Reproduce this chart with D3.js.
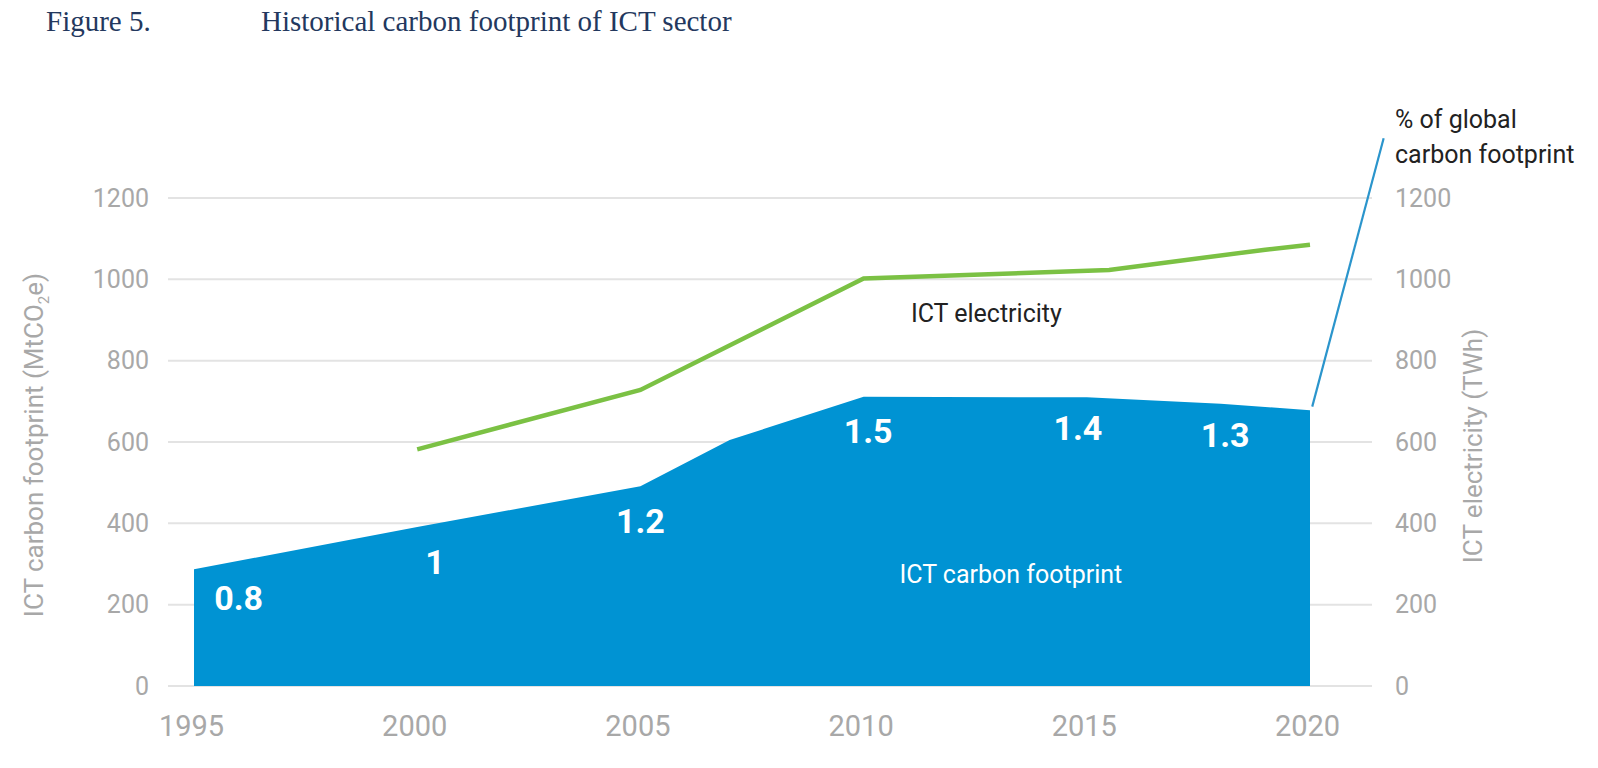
<!DOCTYPE html>
<html lang="en">
    <head>
        <meta charset="utf-8">
        <title>Historical carbon footprint of ICT sector</title>
        <script src="https://d3js.org/d3.v7.min.js"></script>
        <style type="text/css">
            body {
                margin: 0;
                background: white;
            }
            .title {
                font-family: "Liberation Serif", serif;
                font-size: 29px;
                fill: #23385e;
            }
            .axis text {
                font-family: Roboto, sans-serif;
                font-size: 25px;
                fill: #a8a8a8;
            }
            .axis path {
                display: none;
            }
            .years text {
                font-size: 29px;
            }
            .grid line {
                stroke: #e3e3e3;
                stroke-width: 2px;
            }
            .axisTitle {
                font-family: Roboto, sans-serif;
                font-size: 26px;
                fill: #a8a8a8;
            }
            .pct {
                font-family: Roboto, sans-serif;
                font-size: 34px;
                font-weight: bold;
                fill: white;
            }
            .note {
                font-family: Roboto, sans-serif;
                font-size: 25px;
            }
        </style>
    </head>
    <body>
        <script type="text/javascript">

            const w = 1598;
            const h = 768;

            // carbon footprint (MtCO2e)
            const footprintYears = [1995, 2000, 2005, 2007, 2010, 2015, 2018, 2020];
            const footprintValues = [287, 391, 491, 605, 711, 710, 694, 678];

            // ICT electricity (TWh)
            const electricityYears = [2000, 2005, 2010, 2015.5, 2019, 2020];
            const electricityValues = [582, 728, 1002, 1023, 1073, 1085];

            // % of global carbon footprint labels
            const pctLabels = ["0.8", "1", "1.2", "1.5", "1.4", "1.3"];
            const pctYears = [1996, 2000.4, 2005, 2010.1, 2014.8, 2018.1];
            const pctValues = [187, 275, 376, 597, 605, 588];

            const yearTicks = [1995, 2000, 2005, 2010, 2015, 2020];
            const valueTicks = [0, 200, 400, 600, 800, 1000, 1200];

            const footprint = footprintYears.map((y, i) => ({year: y, value: footprintValues[i]}));
            const electricity = electricityYears.map((y, i) => ({year: y, value: electricityValues[i]}));

            const xScale = d3.scaleLinear()
                             .domain([1995, 2020])
                             .range([194, 1310]);

            const yScale = d3.scaleLinear()
                             .domain([0, 1200])
                             .range([686, 198]);

            const svg = d3.select("body")
                    .append("svg")
                    .attr("width", w)
                    .attr("height", h);

            // title
            svg.append("text").attr("class", "title")
               .attr("x", 46).attr("y", 31)
               .text("Figure 5.");
            svg.append("text").attr("class", "title")
               .attr("x", 261).attr("y", 31)
               .text("Historical carbon footprint of ICT sector");

            // gridlines
            svg.append("g").attr("class", "grid")
               .selectAll("line")
               .data(valueTicks)
               .join("line")
               .attr("x1", 168)
               .attr("x2", 1372)
               .attr("y1", d => yScale(d))
               .attr("y2", d => yScale(d));

            // carbon footprint area
            const area = d3.area()
                .x(d => xScale(d.year))
                .y0(yScale(0))
                .y1(d => yScale(d.value));

            svg.append("path")
               .datum(footprint)
               .attr("d", area)
               .attr("fill", "#0093d3");

            // electricity line
            const line = d3.line()
                .x(d => xScale(d.year))
                .y(d => yScale(d.value));

            svg.append("path")
               .datum(electricity)
               .attr("d", line)
               .attr("fill", "none")
               .attr("stroke", "#7bc144")
               .attr("stroke-width", 4.5);

            // leader line to the "% of global" note
            svg.append("line")
               .attr("x1", xScale(2020.05)).attr("y1", yScale(687))
               .attr("x2", xScale(2021.65)).attr("y2", yScale(1347))
               .attr("stroke", "#2b95cc")
               .attr("stroke-width", 2.2);

            // left axis
            const leftAxis = d3.axisLeft(yScale)
                               .tickValues(valueTicks)
                               .tickFormat(d3.format("d"))
                               .tickSize(0)
                               .tickPadding(0);
            svg.append("g")
               .attr("class", "axis")
               .attr("transform", "translate(149,0)")
               .call(leftAxis);

            // right axis
            const rightAxis = d3.axisRight(yScale)
                                .tickValues(valueTicks)
                                .tickFormat(d3.format("d"))
                                .tickSize(0)
                                .tickPadding(0);
            svg.append("g")
               .attr("class", "axis")
               .attr("transform", "translate(1395,0)")
               .call(rightAxis);

            // bottom axis
            const bottomAxis = d3.axisBottom(xScale)
                                 .tickValues(yearTicks)
                                 .tickFormat(d3.format("d"))
                                 .tickSize(0)
                                 .tickPadding(0);
            svg.append("g")
               .attr("class", "axis years")
               .attr("transform", "translate(-3,715)")
               .call(bottomAxis);

            // axis titles
            const leftTitle = svg.append("text")
               .attr("class", "axisTitle")
               .attr("text-anchor", "middle")
               .attr("transform", "translate(43,445) rotate(-90)");
            leftTitle.append("tspan").text("ICT carbon footprint (MtCO");
            leftTitle.append("tspan").attr("font-size", "15px").attr("dy", 6).text("2");
            leftTitle.append("tspan").attr("dy", -6).text("e)");

            svg.append("text")
               .attr("class", "axisTitle")
               .attr("text-anchor", "middle")
               .attr("transform", "translate(1482,446) rotate(-90)")
               .text("ICT electricity (TWh)");

            // percentage labels on the area
            svg.selectAll(".pct")
               .data(pctLabels)
               .join("text")
               .attr("class", "pct")
               .attr("text-anchor", "middle")
               .attr("x", (d, i) => xScale(pctYears[i]))
               .attr("y", (d, i) => yScale(pctValues[i]))
               .text(d => d);

            // series notes
            svg.append("text").attr("class", "note")
               .attr("text-anchor", "middle")
               .attr("x", xScale(2013.3)).attr("y", yScale(253))
               .attr("fill", "white")
               .text("ICT carbon footprint");

            svg.append("text").attr("class", "note")
               .attr("text-anchor", "middle")
               .attr("x", xScale(2012.75)).attr("y", yScale(896))
               .attr("fill", "#222")
               .text("ICT electricity");

            svg.append("text").attr("class", "note")
               .attr("x", 1395).attr("y", 128)
               .attr("fill", "#222")
               .text("% of global");
            svg.append("text").attr("class", "note")
               .attr("x", 1395).attr("y", 163)
               .attr("fill", "#222")
               .text("carbon footprint");

        </script>
    </body>
</html>
